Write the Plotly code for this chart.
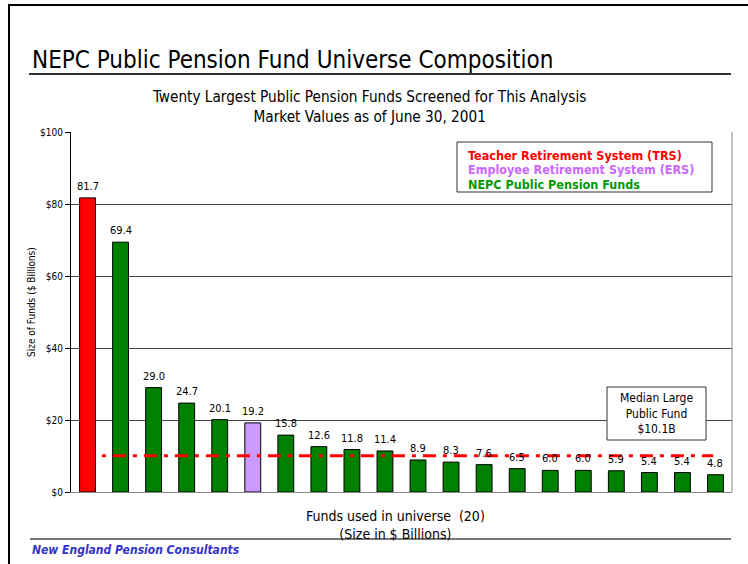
import plotly.graph_objects as go

# ---- data ----
fund_index = list(range(1, 21))
fund_values = [81.7, 69.4, 29.0, 24.7, 20.1, 19.2, 15.8, 12.6, 11.8, 11.4,
               8.9, 8.3, 7.6, 6.5, 6.0, 6.0, 5.9, 5.4, 5.4, 4.8]
fund_groups = ["TRS", "NEPC", "NEPC", "NEPC", "NEPC", "ERS", "NEPC", "NEPC", "NEPC", "NEPC",
               "NEPC", "NEPC", "NEPC", "NEPC", "NEPC", "NEPC", "NEPC", "NEPC", "NEPC", "NEPC"]
median_value = 10.1
y_ticks = [0, 20, 40, 60, 80, 100]
legend_labels = ["Teacher Retirement System (TRS)", "Employee Retirement System (ERS)",
                 "NEPC Public Pension Funds"]

group_fill = {"TRS": "#ff0000", "ERS": "#cc99ff", "NEPC": "#008000"}
legend_colors = ["#ff0000", "#cc66ff", "#009900"]

W, H = 748, 564
L, R, T, B = 71, 732, 132, 492
FONT = "DejaVu Sans Condensed, Liberation Sans Narrow, DejaVu Sans, sans-serif"


def px_x(p):
    return (p - L) / (R - L)


def px_y(p):
    return (B - p) / (B - T)


fig = go.Figure()
fig.add_trace(go.Bar(
    x=fund_index, y=fund_values,
    marker=dict(color=[group_fill[g] for g in fund_groups],
                line=dict(color="#000000", width=1)),
    width=0.48,
    hoverinfo="skip",
    showlegend=False,
))

shapes = []
# median line
shapes.append(dict(type="line", xref="x", yref="y", x0=0.83, x1=19.93,
                   y0=median_value, y1=median_value,
                   line=dict(color="#ff0000", width=3, dash="13px,7px,4px,7px"), layer="above"))
# right border of plot area
shapes.append(dict(type="line", xref="paper", yref="paper", x0=1, x1=1, y0=0, y1=1,
                   line=dict(color="#888888", width=1)))
# page frame
shapes.append(dict(type="line", xref="paper", yref="paper", x0=px_x(9), x1=px_x(9),
                   y0=px_y(4), y1=px_y(570), line=dict(color="#000000", width=2)))
shapes.append(dict(type="line", xref="paper", yref="paper", x0=px_x(9), x1=px_x(760),
                   y0=px_y(5), y1=px_y(5), line=dict(color="#000000", width=2)))
# title underline
shapes.append(dict(type="line", xref="paper", yref="paper", x0=px_x(29), x1=px_x(731),
                   y0=px_y(74), y1=px_y(74), line=dict(color="#333333", width=2)))
# footer line
shapes.append(dict(type="line", xref="paper", yref="paper", x0=px_x(30), x1=px_x(731),
                   y0=px_y(539), y1=px_y(539), line=dict(color="#777777", width=2)))
# legend box
shapes.append(dict(type="rect", xref="paper", yref="paper", x0=px_x(457), x1=px_x(712),
                   y0=px_y(192), y1=px_y(142), line=dict(color="#333333", width=1),
                   fillcolor="#ffffff", layer="above"))
# median box
shapes.append(dict(type="rect", xref="paper", yref="paper", x0=px_x(607), x1=px_x(706),
                   y0=px_y(440), y1=px_y(387), line=dict(color="#333333", width=1),
                   fillcolor="#ffffff", layer="above"))

ann = []
# value labels
for xi, v in zip(fund_index, fund_values):
    ann.append(dict(xref="x", yref="y", x=xi, y=v, xanchor="center", yanchor="bottom",
                    yshift=3, text=f"{v:.1f}", showarrow=False,
                    font=dict(family=FONT, size=11, color="#000000")))
ann.append(dict(xref="paper", yref="paper", x=px_x(30), y=px_y(60), xanchor="left", yanchor="middle",
                text="NEPC Public Pension Fund Universe Composition", showarrow=False,
                font=dict(family=FONT, size=24, color="#000000")))
ann.append(dict(xref="paper", yref="paper", x=px_x(369), y=px_y(107), xanchor="center", yanchor="middle",
                text="Twenty Largest Public Pension Funds Screened for This Analysis<br>Market Values as of June 30, 2001",
                showarrow=False, font=dict(family=FONT, size=15.2, color="#000000")))
ann.append(dict(xref="paper", yref="paper", x=px_x(395), y=px_y(525), xanchor="center", yanchor="middle",
                text="Funds used in universe  (20)<br>(Size in $ Billions)",
                showarrow=False, font=dict(family=FONT, size=14, color="#000000")))
ann.append(dict(xref="paper", yref="paper", x=px_x(31), y=px_y(302), xanchor="center", yanchor="middle",
                text="Size of Funds ($ Billions)", textangle=-90,
                showarrow=False, font=dict(family=FONT, size=10, color="#000000")))
ann.append(dict(xref="paper", yref="paper", x=px_x(30), y=px_y(550), xanchor="left", yanchor="middle",
                text="<b><i>New England Pension Consultants</i></b>",
                showarrow=False, font=dict(family=FONT, size=12, color="#3333cc")))
for i, (lab, col) in enumerate(zip(legend_labels, legend_colors)):
    ann.append(dict(xref="paper", yref="paper", x=px_x(466), y=px_y(155 + 14.5 * i),
                    xanchor="left", yanchor="middle", text=f"<b>{lab}</b>", showarrow=False,
                    font=dict(family=FONT, size=12.5, color=col)))
ann.append(dict(xref="paper", yref="paper", x=px_x(656), y=px_y(413), xanchor="center", yanchor="middle",
                text="Median Large<br>Public Fund<br>$10.1B", showarrow=False,
                font=dict(family=FONT, size=12, color="#000000")))

fig.update_layout(
    width=W, height=H,
    margin=dict(l=L, r=W - R, t=T, b=H - B),
    paper_bgcolor="#ffffff", plot_bgcolor="#ffffff",
    shapes=shapes, annotations=ann,
    font=dict(family=FONT, size=10, color="#000000"),
)
fig.update_xaxes(range=[0.5, 20.5], showticklabels=False, showgrid=False, zeroline=False,
                 showline=True, linecolor="#888888", linewidth=1, ticks="")
fig.update_yaxes(range=[0, 100], tickvals=y_ticks, ticktext=[f"${v}" for v in y_ticks],
                 showgrid=True, gridcolor="#444444", gridwidth=1, zeroline=False,
                 showline=True, linecolor="#000000", linewidth=1, ticks="outside", ticklen=5,
                 tickcolor="#000000", tickfont=dict(family=FONT, size=10, color="#000000"))

fig.write_html("out.html", config={"displayModeBar": False},
               post_script="document.body.style.margin='0';document.body.style.overflow='hidden';")
